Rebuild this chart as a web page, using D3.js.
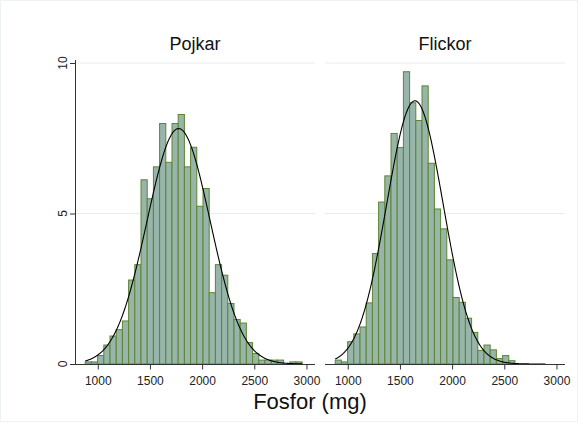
<!DOCTYPE html>
<html>
<head>
<meta charset="utf-8">
<script src="https://cdn.jsdelivr.net/npm/d3@7/dist/d3.min.js"></script>
<style>
  html, body { margin: 0; padding: 0; background: #fff; }
  svg { display: block; font-family: "Liberation Sans", Arial, sans-serif; }
</style>
</head>
<body>
<svg id="chart" width="583" height="426"></svg>
<script>
// ---- data ----
const panels = ["Pojkar", "Flickor"];
const binStart = 875;
const binWidth = 59.4;
const pojkarPct = [0.07, 0.07, 0.28, 0.63, 0.93, 1.14, 1.43, 2.79, 3.30, 6.12, 5.49, 6.55, 7.99, 6.70, 7.99, 8.29, 6.55, 7.20, 5.24, 5.83, 2.37, 3.30, 2.95, 2.01, 1.48, 1.36, 0.71, 0.35, 0.13, 0.13, 0.13, 0.13, 0, 0.07, 0.07];
const flickorPct = [0.13, 0.07, 0.74, 1.00, 1.23, 2.03, 3.67, 5.38, 6.25, 7.66, 7.19, 9.71, 8.68, 8.09, 9.24, 6.67, 5.15, 4.49, 3.46, 2.21, 2.05, 1.52, 1.05, 0.45, 0.63, 0.47, 0.18, 0.28, 0.11];
const normalMean = [1770, 1639];
const normalSD = [303, 271];
const curveRange = [[875, 2955], [875, 2890]];
const xTicks = [1000, 1500, 2000, 2500, 3000];
const yTicks = [0, 5, 10];
const xTitle = "Fosfor (mg)";

const series = [pojkarPct, flickorPct];

// ---- layout ----
const svg = d3.select("#chart");
const panelLeft = [75, 325];
const panelW = 240;
const y = d3.scaleLinear().domain([0, 10]).range([364, 63]);
const x = d3.scaleLinear().domain([777, 3077]).range([0, panelW]);

// faint outer frame
svg.append("rect").attr("x", 0.5).attr("y", 0.5).attr("width", 577).attr("height", 421)
  .attr("fill", "none").attr("stroke", "#eef2f4");

panels.forEach((name, p) => {
  const g = svg.append("g").attr("transform", `translate(${panelLeft[p]},0)`);

  // gridlines
  g.selectAll("line.grid").data(yTicks.filter(d => d > 0)).enter().append("line")
    .attr("x1", 0).attr("x2", panelW)
    .attr("y1", d => y(d)).attr("y2", d => y(d))
    .attr("stroke", "#e6eef0").attr("stroke-width", 1);

  // bars
  const bars = series[p].map((v, i) => ({ i, v })).filter(d => d.v > 0);
  g.selectAll("rect.bar").data(bars).enter().append("rect")
    .attr("x", d => x(binStart + d.i * binWidth))
    .attr("width", d => x(binStart + (d.i + 1) * binWidth) - x(binStart + d.i * binWidth))
    .attr("y", d => y(d.v))
    .attr("height", d => y(0) - y(d.v))
    .attr("fill", "#97b5ab")
    .attr("stroke", "#5d8530")
    .attr("stroke-width", 1);

  // normal curve
  const m = normalMean[p], s = normalSD[p];
  const pts = d3.range(curveRange[p][0], curveRange[p][1] + 1, 5).map(v =>
    [v, 100 * binWidth / (s * Math.sqrt(2 * Math.PI)) * Math.exp(-((v - m) ** 2) / (2 * s * s))]);
  g.append("path").datum(pts)
    .attr("d", d3.line().x(d => x(d[0])).y(d => y(d[1])))
    .attr("fill", "none").attr("stroke", "#000").attr("stroke-width", 1.1);

  // x axis
  const ax = g.append("g").attr("transform", `translate(0,${y(0) + 0.5})`);
  ax.append("line").attr("x1", 0).attr("x2", panelW).attr("stroke", "#333").attr("stroke-width", 1);
  ax.selectAll("line.tick").data(xTicks).enter().append("line")
    .attr("x1", d => x(d)).attr("x2", d => x(d)).attr("y1", 0).attr("y2", 5)
    .attr("stroke", "#333");
  ax.selectAll("text").data(xTicks).enter().append("text")
    .attr("x", d => x(d)).attr("y", 20)
    .attr("text-anchor", "middle").attr("font-size", 12).attr("fill", "#222")
    .text(d => d);

  // panel title
  svg.append("text").attr("x", panelLeft[p] + panelW / 2).attr("y", 50)
    .attr("text-anchor", "middle").attr("font-size", 18).attr("fill", "#111")
    .text(name);
});

// y axis (shared, left)
const yg = svg.append("g");
yg.append("line").attr("x1", 75.5).attr("x2", 75.5).attr("y1", 60).attr("y2", y(0) + 0.5)
  .attr("stroke", "#333");
yg.selectAll("line.tick").data(yTicks).enter().append("line")
  .attr("x1", 70).attr("x2", 75.5).attr("y1", d => y(d) + 0.5).attr("y2", d => y(d) + 0.5)
  .attr("stroke", "#333");
yg.selectAll("text").data(yTicks).enter().append("text")
  .attr("transform", d => `translate(67,${y(d)}) rotate(-90)`)
  .attr("text-anchor", "middle").attr("font-size", 12).attr("fill", "#222")
  .text(d => d);

// x title
svg.append("text").attr("x", 310).attr("y", 409)
  .attr("text-anchor", "middle").attr("font-size", 22).attr("fill", "#111")
  .text(xTitle);
</script>
</body>
</html>
